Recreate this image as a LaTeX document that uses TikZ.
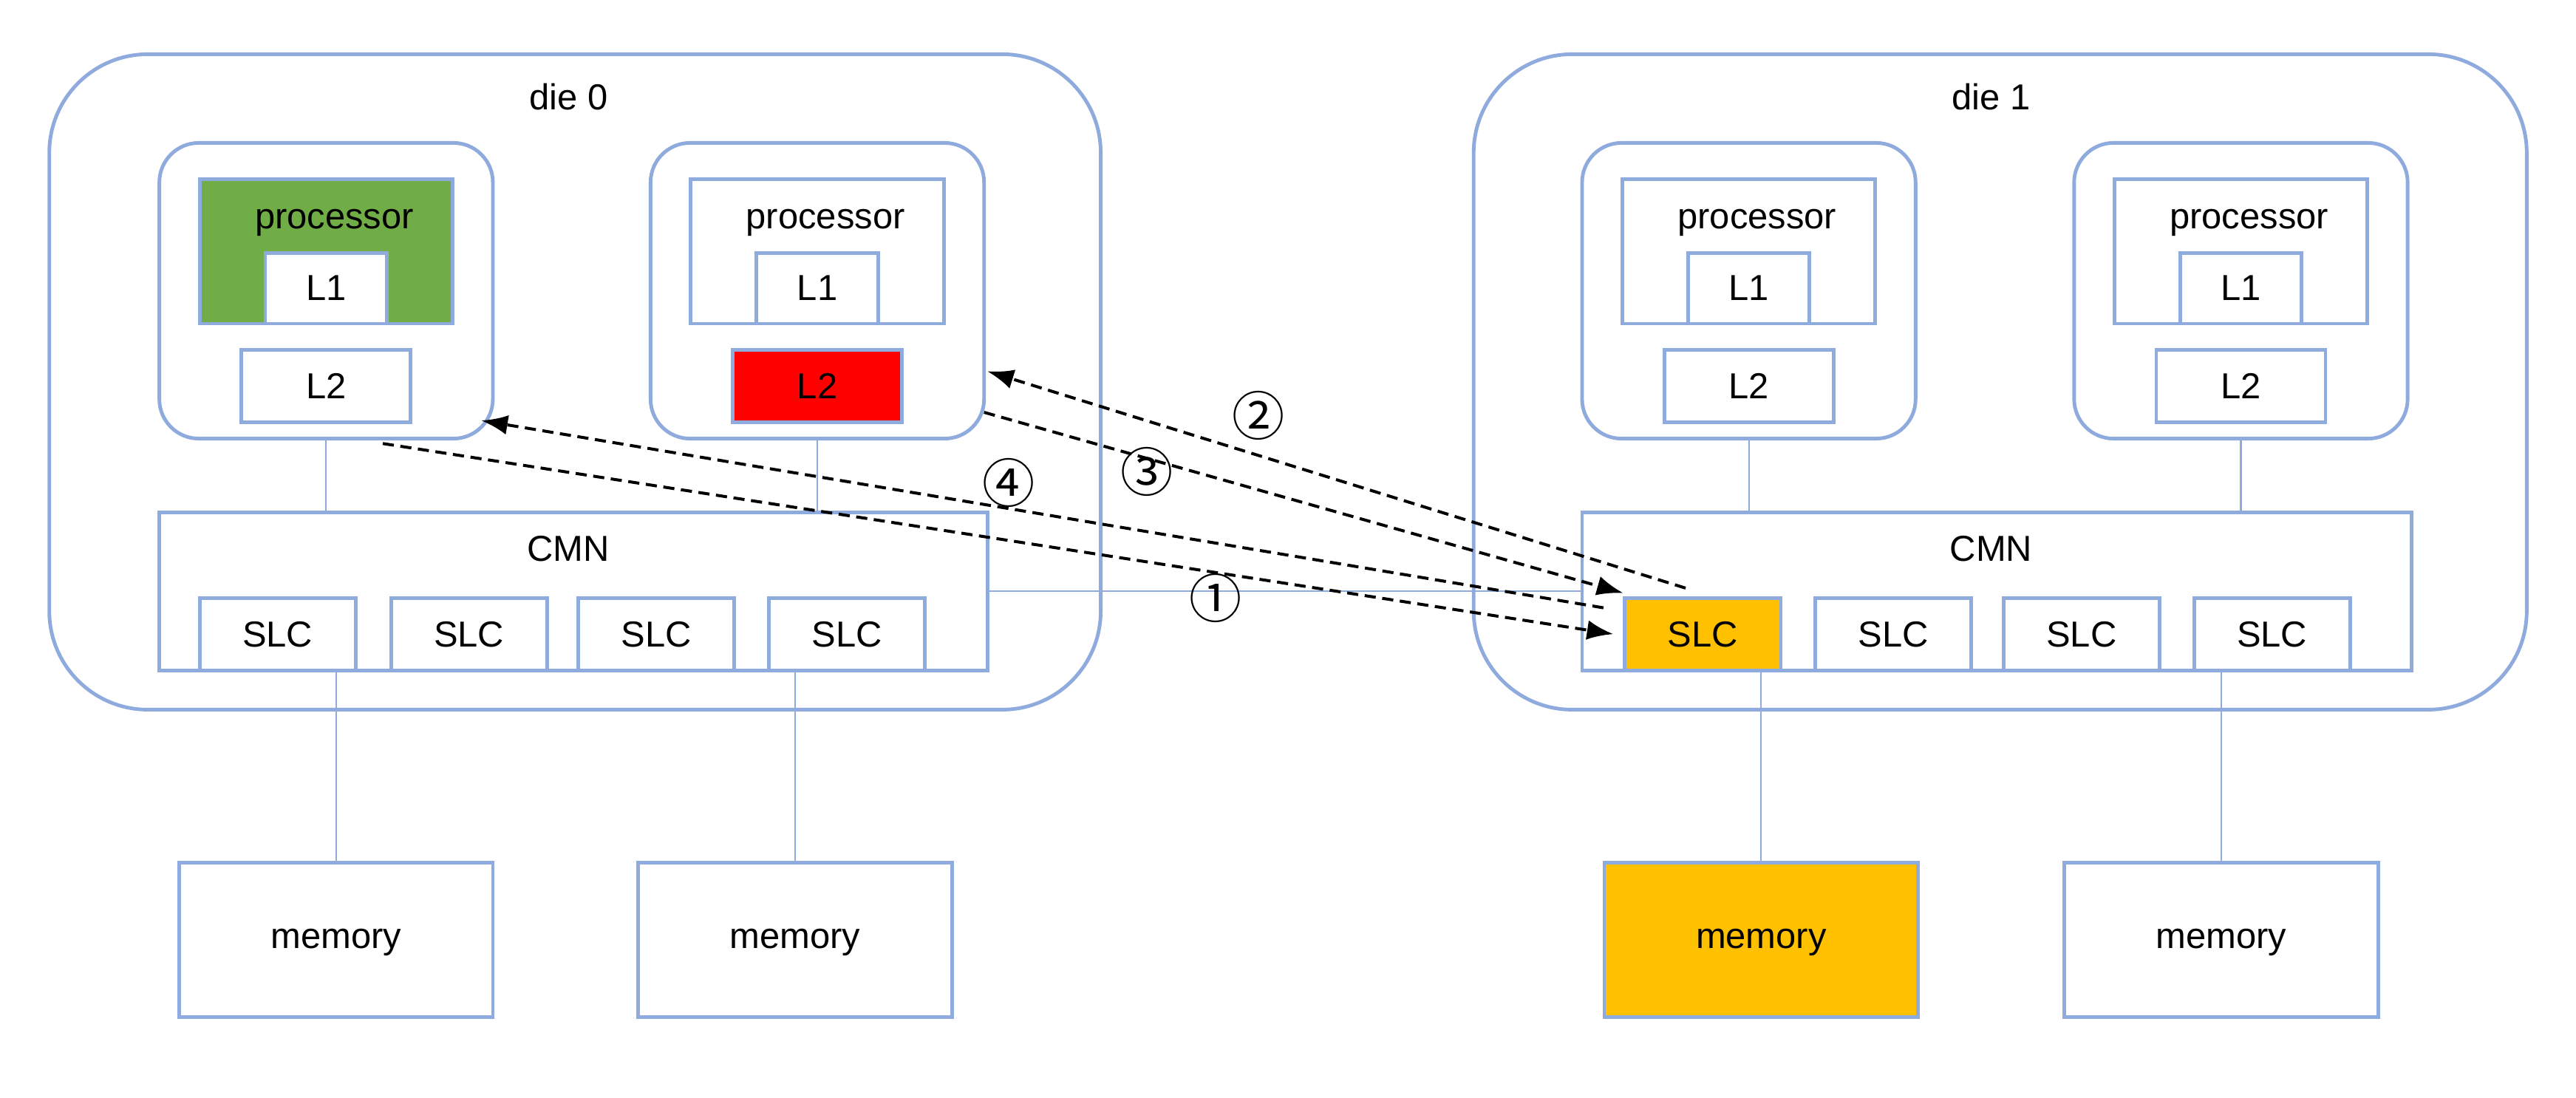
\documentclass[tikz,border=0pt]{standalone}
\usepackage{fontspec}
\setmainfont{Liberation Sans}
\newfontfamily\circfont{Noto Sans CJK SC}
\usepackage{xcolor}
\usepackage{tikz}
\usetikzlibrary{arrows.meta}
\definecolor{edge}{HTML}{8FAADC}
\definecolor{cpugreen}{HTML}{70AD47}
\definecolor{l2red}{HTML}{FF0000}
\definecolor{slcgold}{HTML}{FFC000}

\begin{document}
\begin{tikzpicture}[x=0.5pt,y=-0.5pt,font=\fontsize{11}{13}\selectfont,
	box/.style 2 args={draw=edge, line width=1.1pt, inner sep=0pt, outer sep=0pt, minimum width=#1*0.5pt, minimum height=#2*0.5pt},
	low/.style={text height=1ex, text depth=0pt},
	link/.style={draw=edge, line width=0.5pt},
	hop/.style={draw=black, line width=0.9pt, dash pattern=on 3.4pt off 2pt, -{Latex[length=8pt,width=6pt]}},
	num/.style={font=\circfont\fontsize{16}{18}\selectfont}]
	\useasboundingbox[fill=white] (0,0) rectangle (1568,668);
	\node[box={640}{399}, rounded corners=30pt] (die0) at (350,232.5) {};
	\node[box={641}{399}, rounded corners=30pt] (die1) at (1217.5,232.5) {};
	\node (die0t) at (346,59) {die 0};
	\node (die1t) at (1212,59) {die 1};
	\foreach \c/\x/\pf/\lf in {00/198.5/cpugreen/white, 01/497.5/white/l2red, 10/1064.5/white/white, 11/1364/white/white}{
		\node[box={203}{180}, rounded corners=12pt] (core\c) at (\x,177) {};
		\node[box={154}{88}, fill=\pf] (cpu\c) at (\x,153) {};
		\node[low] (cput\c) at (\x+5,134) {processor};
		\node[box={74}{43}, fill=white] (l1\c) at (\x,175.5) {L1};
		\node[box={103}{44}, fill=\lf] (l2\c) at (\x,235) {L2};
	}
	\node[box={504}{96}] (cmn0) at (349,360) {};
	\node[box={505}{96}] (cmn1) at (1215.5,360) {};
	\node (cmn0t) at (346,334) {CMN};
	\node (cmn1t) at (1212,334) {CMN};
	\foreach \s/\x/\f in {00/169/white, 01/285.5/white, 02/399.5/white, 03/515.5/white, 10/1036.5/slcgold, 11/1152.5/white, 12/1267/white, 13/1383/white}
		\node[box={95}{44}, fill=\f] (slc\s) at (\x,386) {SLC};
	\foreach \m/\x/\f in {0/204.5/white, 1/484/white, 2/1072/slcgold, 3/1352/white}
		\node[box={191}{94}, fill=\f, low] (mem\m) at (\x,572) {memory};
	\draw[link] (core00.south) -- (core00.south |- cmn0.north);
	\draw[link] (core01.south) -- (core01.south |- cmn0.north);
	\draw[link] (core10.south) -- (core10.south |- cmn1.north);
	\draw[link] (core11.south) -- (core11.south |- cmn1.north);
	\draw[link] (mem0.north) -- (mem0.north |- slc00.south);
	\draw[link] (mem1.north) -- (mem1.north |- slc03.south);
	\draw[link] (mem2.north) -- (mem2.north |- slc10.south);
	\draw[link] (mem3.north) -- (mem3.north |- slc13.south);
	\draw[link] (cmn0.east) -- (cmn1.west);
	\coordinate (h1a) at (233,270);
	\coordinate (h1b) at (982,386);
	\coordinate (h2a) at (1026,358);
	\coordinate (h2b) at (601,226);
	\coordinate (h3a) at (599,251);
	\coordinate (h3b) at (988,361);
	\coordinate (h4a) at (976,370);
	\coordinate (h4b) at (293,256);
	\draw[hop] (h1a) -- (h1b);
	\draw[hop] (h2a) -- (h2b);
	\draw[hop] (h3a) -- (h3b);
	\draw[hop] (h4a) -- (h4b);
	\node[num] (n1) at (740,364) {①};
	\node[num] (n2) at (766,253) {②};
	\node[num] (n3) at (698,287) {③};
	\node[num] (n4) at (614,294) {④};
\end{tikzpicture}
\end{document}
